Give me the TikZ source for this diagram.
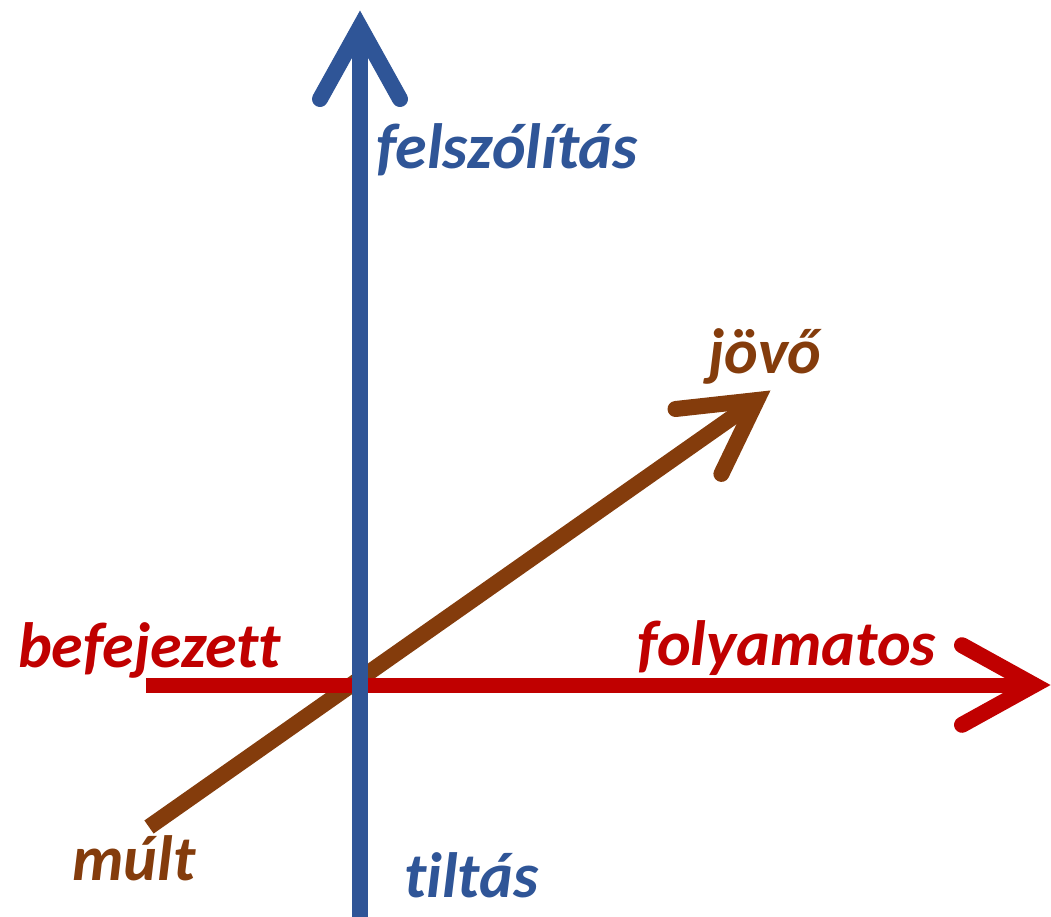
\documentclass[tikz,border=0pt]{standalone}
\usepackage{fontspec}
\setmainfont{Carlito}[Ligatures={NoCommon,NoRare}]
\definecolor{axblue}{HTML}{2F5597}
\definecolor{axred}{HTML}{C00000}
\definecolor{axbrown}{HTML}{843C0C}
\begin{document}
\begin{tikzpicture}[x=1pt,y=-1pt,
  axisline/.style={line width=16pt},
  headline/.style={line width=16pt, line cap=round, line join=miter, miter limit=10},
  lbl/.style={inner sep=0pt, anchor=base west, font=\fontsize{64}{64}\selectfont\bfseries\itshape}]
\useasboundingbox (0,0) rectangle (1051,916);
% brown (time) axis
\coordinate (bS) at (149,827);
\coordinate (bV) at (757,400);
\coordinate (bA) at (675.5,409);
\coordinate (bB) at (721.4,473.9);
\draw[axisline, axbrown] (bS) -- (bV);
\draw[headline, axbrown] (bA) -- (bV) -- (bB);
% red (aspect) axis
\coordinate (rS) at (146,685);
\coordinate (rV) at (1034,685);
\coordinate (rA) at (962,645.2);
\coordinate (rB) at (962,724.8);
\draw[axisline, axred, line width=15pt] (rS) -- (rV);
\draw[headline, axred] (rA) -- (rV) -- (rB);
% blue (mood) axis
\coordinate (uS) at (360,930);
\coordinate (uV) at (360,27);
\coordinate (uA) at (320,99);
\coordinate (uB) at (400,99);
\draw[axisline, axblue] (uS) -- (uV);
\draw[headline, axblue] (uA) -- (uV) -- (uB);
% labels
\node[lbl, text=axblue] (felsz) at (376,168) {felszólítás};
\node[lbl, text=axblue] (tilt) at (404,897) {tiltás};
\node[lbl, text=axbrown] (jovo) at (708,373) {jövő};
\node[lbl, text=axbrown] (mult) at (72,880) {múlt};
\node[lbl, text=axred] (befej) at (18,667) {befejezett};
\node[lbl, text=axred] (foly) at (637,665) {folyamatos};
\end{tikzpicture}
\end{document}
